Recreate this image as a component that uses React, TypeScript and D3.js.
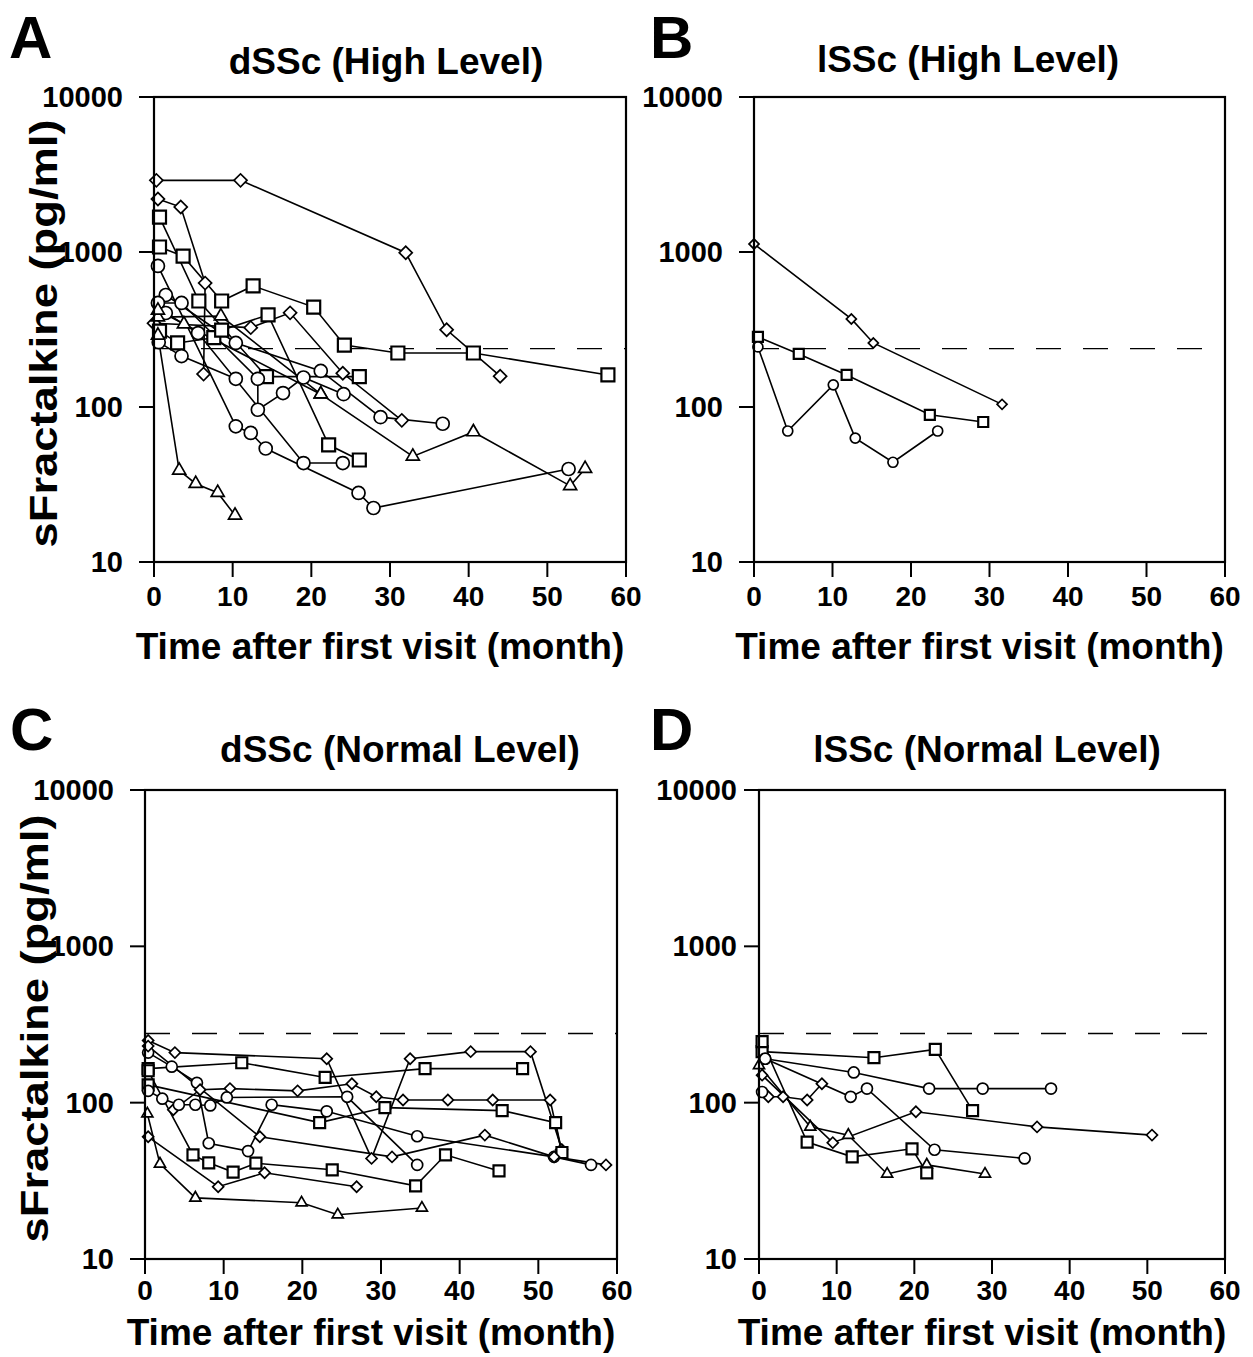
import React from 'react';
import * as d3 from 'd3';

type Pt = [number, number];
type Marker = 'circle' | 'square' | 'diamond' | 'triangle';
interface Series { marker: Marker; points: Pt[] }

const monthTicks = [0, 10, 20, 30, 40, 50, 60];
const levelTicks = [10, 100, 1000, 10000];

// dSSc, high level
const seriesA: Series[] = [
  { marker: 'diamond', points: [[0.3, 2900], [11, 2900], [32, 990], [37.2, 315], [44, 158]] },
  { marker: 'diamond', points: [[0.5, 2200], [3.4, 1950], [6.5, 630], [6.3, 163]] },
  { marker: 'diamond', points: [[0, 347], [12.3, 325], [17.3, 405], [24, 165], [31.5, 82]] },
  { marker: 'square', points: [[0.7, 1680], [5.7, 483], [14.3, 157], [26.1, 157]] },
  { marker: 'square', points: [[0.7, 1077], [3.7, 940], [8.6, 483], [12.6, 604], [20.3, 441], [24.2, 251], [31, 223], [40.6, 223], [57.7, 161]] },
  { marker: 'square', points: [[0.7, 309], [3, 259], [7.6, 280], [8.6, 313], [14.5, 393], [22.2, 57], [26.1, 45.5]] },
  { marker: 'circle', points: [[0.5, 813], [10.4, 75], [12.3, 68], [14.2, 54], [26, 27.9], [27.9, 22.3], [52.7, 39.8]] },
  { marker: 'circle', points: [[1.5, 528], [10.4, 259], [21.2, 171], [28.8, 86], [36.7, 78]] },
  { marker: 'circle', points: [[0.5, 469], [3.5, 469], [13.2, 152], [13.2, 96], [16.4, 123], [19, 155], [24.1, 121]] },
  { marker: 'circle', points: [[1.5, 404], [5.6, 300], [19, 43.5], [24, 43.5]] },
  { marker: 'circle', points: [[0.6, 262], [3.5, 213], [10.4, 152]] },
  { marker: 'triangle', points: [[0.5, 290], [3.2, 39], [5.3, 32], [8.1, 28], [10.3, 20]] },
  { marker: 'triangle', points: [[0.5, 380], [8.5, 386], [21.2, 121], [32.9, 48], [40.6, 69], [52.9, 31], [54.8, 40]] },
  { marker: 'triangle', points: [[0.5, 420], [3.8, 343], [21.2, 121]] },
];

// lSSc, high level
const seriesB: Series[] = [
  { marker: 'diamond', points: [[0, 1127], [12.4, 370], [15.2, 259], [31.6, 104]] },
  { marker: 'square', points: [[0.5, 283], [5.7, 220], [11.8, 161], [22.4, 89], [29.2, 80]] },
  { marker: 'circle', points: [[0.5, 244], [4.3, 70], [10.1, 139], [12.9, 63], [17.7, 44], [23.4, 70]] },
];

// dSSc, normal level
const seriesC: Series[] = [
  { marker: 'diamond', points: [[0.4, 250], [3.8, 209], [23.1, 191], [28.8, 44], [33.7, 191], [41.4, 212], [49, 212], [53, 50]] },
  { marker: 'circle', points: [[0.4, 209], [3.4, 170], [6.6, 134], [8.1, 55], [13.1, 49], [16.1, 97], [23.1, 88], [34.6, 61], [52, 45], [56.7, 40]] },
  { marker: 'square', points: [[0.4, 165], [12.3, 180], [22.9, 145], [35.6, 165], [48, 165]] },
  { marker: 'diamond', points: [[3.6, 90], [7, 121], [10.8, 123], [19.4, 119], [26.3, 132], [29.4, 109], [32.8, 104], [38.5, 104], [44.2, 104], [51.5, 104], [52.9, 50]] },
  { marker: 'square', points: [[0.4, 130], [22.2, 74.5], [30.5, 93], [45.4, 89], [52.2, 74.5], [53, 48]] },
  { marker: 'circle', points: [[0.4, 119], [2.2, 106], [4.3, 97], [6.4, 97], [8.3, 96], [10.4, 108], [25.7, 109], [34.6, 40]] },
  { marker: 'diamond', points: [[0.4, 60.5], [9.3, 29], [15.2, 35.6], [26.9, 29]] },
  { marker: 'square', points: [[0.4, 160], [6.1, 46.4], [8.1, 41.2], [11.2, 36], [14.1, 41], [23.8, 37.2], [34.4, 29.4], [38.2, 46.4], [45, 36.6]] },
  { marker: 'diamond', points: [[0.4, 230], [14.6, 60.5], [31.4, 45], [43.2, 62], [52, 45], [58.6, 40]] },
  { marker: 'triangle', points: [[0.3, 85], [1.9, 40.6], [6.4, 24.6], [19.9, 22.9], [24.5, 19.2], [35.2, 21.2]] },
];

// lSSc, normal level
const seriesD: Series[] = [
  { marker: 'square', points: [[0.4, 212], [14.8, 194], [22.7, 219], [27.5, 89]] },
  { marker: 'circle', points: [[0.8, 191], [12.2, 156], [21.9, 123], [28.8, 123], [37.6, 123]] },
  { marker: 'circle', points: [[0.8, 191], [11.8, 109], [13.9, 123], [22.6, 50], [34.2, 44]] },
  { marker: 'diamond', points: [[1.2, 109], [3.1, 109], [6.2, 104], [8.1, 132]] },
  { marker: 'diamond', points: [[0.4, 150], [9.5, 55.5], [20.2, 87.5], [35.8, 70], [50.6, 62]] },
  { marker: 'triangle', points: [[0, 173], [6.6, 70], [11.5, 62], [16.5, 35], [21.6, 40], [29.1, 35]] },
  { marker: 'square', points: [[0.4, 246], [6.2, 56], [12, 45], [19.7, 50.7], [21.6, 35.6]] },
  { marker: 'circle', points: [[0.4, 117]] },
];

const cutoffHigh = 238;
const cutoffNormal = 277;

const FONT = '"Liberation Sans", Arial, Helvetica, sans-serif';

function markerPath(m: Marker, s: number) {
  if (m === 'circle') return d3.symbol(d3.symbolCircle, (Math.PI * s * s) / 4)()!;
  if (m === 'square') return d3.symbol(d3.symbolSquare, s * s)()!;
  if (m === 'diamond') return d3.symbol(d3.symbolSquare, (s * s) / 2)()!;
  return d3.symbol(d3.symbolTriangle, 0.433 * s * s)()!;
}

interface PanelProps {
  left: number; right: number; top: number; bottom: number;
  series: Series[]; cutoff: number;
  letter: string; letterX: number; letterY: number;
  title: string; titleX: number; titleY: number;
  yLabel: boolean; size: number; tickGap: number; labelGap: number; yTickGap: number;
}

function Panel(p: PanelProps) {
  const x = d3.scaleLinear().domain([0, 60]).range([p.left, p.right]);
  const y = d3.scaleLog().domain([10, 10000]).range([p.bottom, p.top]);
  const line = d3.line<Pt>().x(d => x(d[0])).y(d => y(d[1]));
  const midX = (p.left + p.right) / 2;
  const midY = (p.top + p.bottom) / 2;
  return (
    <g fontFamily={FONT} fontWeight="bold" fill="#000">
      <text x={p.letterX} y={p.letterY} fontSize={60}>{p.letter}</text>
      <text x={p.titleX} y={p.titleY} fontSize={37} textAnchor="middle">{p.title}</text>
      {p.yLabel && (
        <text transform={`translate(${p.left - 97},${midY + 4}) rotate(-90)`} fontSize={38}
          textAnchor="middle" textLength={428} lengthAdjust="spacingAndGlyphs">
          sFractalkine (pg/ml)
        </text>
      )}
      <line x1={p.left} x2={p.right} y1={y(p.cutoff)} y2={y(p.cutoff)} stroke="#000" strokeWidth={1.3} strokeDasharray="25 22" />
      {p.series.map((s, i) => (
        <path key={i} d={line(s.points)!} fill="none" stroke="#000" strokeWidth={1.6} />
      ))}
      {p.series.map((s, i) =>
        s.points.map((d, j) => (
          <path key={`${i}-${j}`} d={markerPath(s.marker, p.size)}
            transform={`translate(${x(d[0])},${y(d[1])})${s.marker === 'diamond' ? ' rotate(45)' : ''}`}
            fill="#fff" stroke="#000" strokeWidth={s.marker === 'square' ? 2.2 : 1.7} />
        ))
      )}
      <rect x={p.left} y={p.top} width={p.right - p.left} height={p.bottom - p.top} fill="none" stroke="#000" strokeWidth={2.2} />
      {levelTicks.map(t => (
        <g key={t}>
          <line x1={p.left - 15} x2={p.left} y1={y(t)} y2={y(t)} stroke="#000" strokeWidth={2} />
          <text x={p.left - p.yTickGap} y={y(t) + 10} fontSize={29} textAnchor="end">{String(t)}</text>
        </g>
      ))}
      {monthTicks.map(t => (
        <g key={t}>
          <line x1={x(t)} x2={x(t)} y1={p.bottom} y2={p.bottom + 15} stroke="#000" strokeWidth={2} />
          <text x={x(t)} y={p.bottom + p.tickGap} fontSize={28} textAnchor="middle">{String(t)}</text>
        </g>
      ))}
      <text x={midX - 10} y={p.bottom + p.labelGap} fontSize={37} textAnchor="middle">Time after first visit (month)</text>
    </g>
  );
}

export default function App() {
  return (
    <svg width={1253} height={1357} style={{ position: 'absolute', left: 0, top: 0, background: '#fff' }}>
      <rect width={1253} height={1357} fill="#fff" />
      <Panel left={154} right={626} top={97} bottom={562} series={seriesA} cutoff={cutoffHigh}
        letter="A" letterX={9} letterY={58} title="dSSc (High Level)" titleX={386} titleY={74}
        yLabel size={13} tickGap={44} labelGap={97} yTickGap={31} />
      <Panel left={754} right={1225} top={97} bottom={562} series={seriesB} cutoff={cutoffHigh}
        letter="B" letterX={650} letterY={58} title="lSSc (High Level)" titleX={968} titleY={72}
        yLabel={false} size={10} tickGap={44} labelGap={97} yTickGap={31} />
      <Panel left={145} right={617} top={790} bottom={1259} series={seriesC} cutoff={cutoffNormal}
        letter="C" letterX={10} letterY={750} title="dSSc (Normal Level)" titleX={400} titleY={762}
        yLabel size={11} tickGap={41} labelGap={86} yTickGap={31} />
      <Panel left={759} right={1225} top={790} bottom={1259} series={seriesD} cutoff={cutoffNormal}
        letter="D" letterX={650} letterY={750} title="lSSc (Normal Level)" titleX={987} titleY={762}
        yLabel={false} size={11} tickGap={41} labelGap={86} yTickGap={22} />
    </svg>
  );
}
